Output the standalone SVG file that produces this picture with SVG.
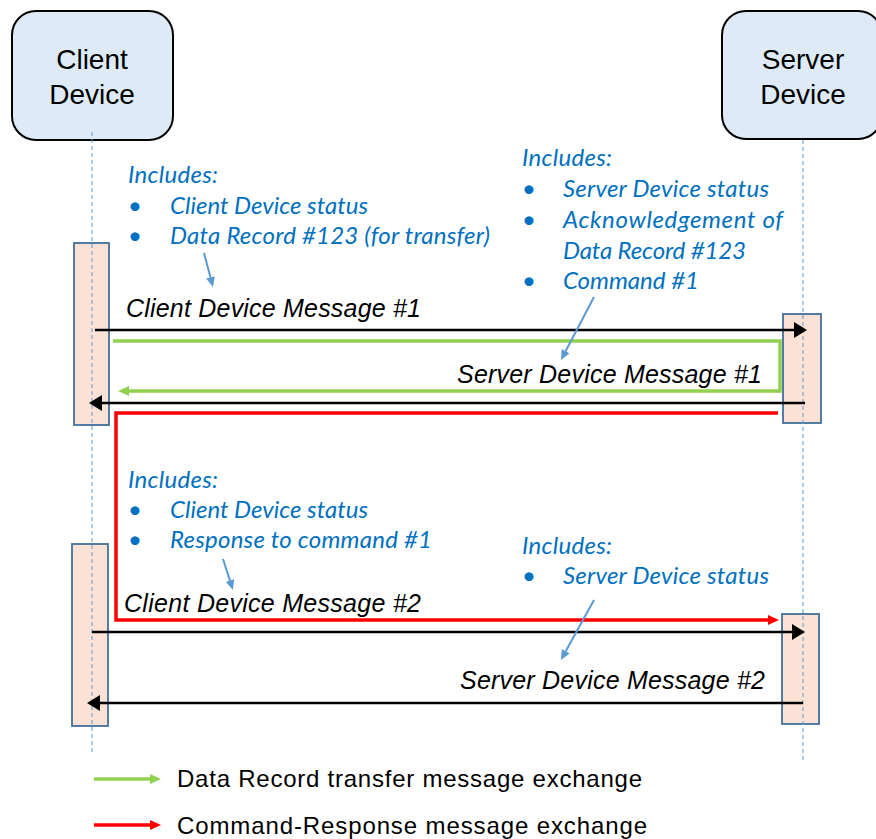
<svg xmlns="http://www.w3.org/2000/svg" width="876" height="839" viewBox="0 0 876 839">
<style>
.title{font-family:"Liberation Sans",Arial,sans-serif;font-size:28px;fill:#000;text-anchor:middle}
.msg{font-family:"Liberation Sans",Arial,sans-serif;font-size:25px;font-style:italic;fill:#000}
.note{font-family:Lato,"Open Sans",sans-serif;font-size:24px;font-style:italic;fill:#0070C0}
.leg{font-family:"Liberation Sans",Arial,sans-serif;font-size:24px;fill:#000}
.head{fill:#DEEBF7;stroke:#000;stroke-width:2}
.act{fill:#FBE2D4;stroke:#41719C;stroke-width:1.8}
.life{stroke:#5B9BD5;stroke-width:1;stroke-dasharray:4 3;fill:none}
.blk{stroke:#000;stroke-width:2.5;fill:none;marker-end:url(#hb)}
.grn{stroke:#92D050;stroke-width:3.5;fill:none;marker-end:url(#hg)}
.red{stroke:#FF0000;stroke-width:3.5;fill:none;marker-end:url(#hr)}
.call{stroke:#5B9BD5;stroke-width:2;fill:none;marker-end:url(#hc)}
</style>
<defs>
<marker id="hb" markerUnits="userSpaceOnUse" markerWidth="14" markerHeight="18" refX="1" refY="8" orient="auto"><path d="M0,0 L13,8 L0,16 z" fill="#000"/></marker>
<marker id="hg" markerUnits="userSpaceOnUse" markerWidth="12" markerHeight="12" refX="1" refY="5" orient="auto"><path d="M0,0 L11,5 L0,10 z" fill="#92D050"/></marker>
<marker id="hr" markerUnits="userSpaceOnUse" markerWidth="12" markerHeight="12" refX="1" refY="5" orient="auto"><path d="M0,0 L11,5 L0,10 z" fill="#FF0000"/></marker>
<marker id="hc" markerUnits="userSpaceOnUse" markerWidth="11" markerHeight="11" refX="1" refY="4.5" orient="auto"><path d="M0,0 L10,4.5 L0,9 z" fill="#5B9BD5"/></marker>
</defs>
<rect width="876" height="839" fill="#fff"/>

<g id="client">
<rect class="head" x="12" y="11" width="161" height="129" rx="24"/>
<text class="title" x="92" y="69">Client</text>
<text class="title" x="92" y="104">Device</text>
</g>
<g id="server">
<rect class="head" x="722" y="11" width="160" height="128" rx="24"/>
<text class="title" x="803" y="69">Server</text>
<text class="title" x="803" y="104">Device</text>
</g>

<g id="activations">
<rect class="act" x="74" y="243" width="35" height="182"/>
<rect class="act" x="783" y="314" width="38" height="109"/>
<rect class="act" x="72" y="544" width="36" height="182"/>
<rect class="act" x="782" y="614" width="37" height="110"/>
</g>
<g id="lifelines">
<line class="life" x1="92" y1="132" x2="92" y2="752"/>
<line class="life" x1="803" y1="140" x2="803" y2="762"/>
</g>

<g id="notes">
<text class="note" x="128" y="183" textLength="90">Includes:</text>
<text class="note" x="128" y="214">•</text><text class="note" x="170" y="214" textLength="198">Client Device status</text>
<text class="note" x="128" y="244">•</text><text class="note" x="170" y="244" textLength="320">Data Record #123 (for transfer)</text>

<text class="note" x="522" y="166" textLength="90">Includes:</text>
<text class="note" x="522" y="197">•</text><text class="note" x="563" y="197" textLength="206">Server Device status</text>
<text class="note" x="522" y="228">•</text><text class="note" x="563" y="228" textLength="220">Acknowledgement of</text>
<text class="note" x="563" y="259" textLength="183">Data Record #123</text>
<text class="note" x="522" y="289">•</text><text class="note" x="563" y="289" textLength="136">Command #1</text>

<text class="note" x="128" y="488" textLength="90">Includes:</text>
<text class="note" x="128" y="518">•</text><text class="note" x="170" y="518" textLength="198">Client Device status</text>
<text class="note" x="128" y="548">•</text><text class="note" x="170" y="548" textLength="262">Response to command #1</text>

<text class="note" x="522" y="554" textLength="90">Includes:</text>
<text class="note" x="522" y="584">•</text><text class="note" x="563" y="584" textLength="206">Server Device status</text>
</g>

<g id="labels">
<text class="msg" x="126" y="317" textLength="295">Client Device Message #1</text>
<text class="msg" x="457" y="383" textLength="305">Server Device Message #1</text>
<text class="msg" x="124" y="612" textLength="297">Client Device Message #2</text>
<text class="msg" x="460" y="689" textLength="305">Server Device Message #2</text>
</g>

<g id="connectors">
<path class="grn" d="M113,341 H780 V391 H128"/>
<path class="red" d="M778,413 H116 V620 H769"/>
<line class="blk" x1="95" y1="330" x2="795" y2="330"/>
<line class="blk" x1="805" y1="403" x2="101" y2="403"/>
<line class="blk" x1="92" y1="632" x2="793" y2="632"/>
<line class="blk" x1="803" y1="703" x2="99" y2="703"/>
<line class="call" x1="204" y1="253" x2="210.7" y2="278.3"/>
<line class="call" x1="594" y1="297" x2="565.2" y2="352"/>
<line class="call" x1="223" y1="559" x2="230.2" y2="581.4"/>
<line class="call" x1="594" y1="600" x2="565.3" y2="652.1"/>
</g>

<g id="legend">
<line class="grn" x1="94" y1="779" x2="151" y2="779"/>
<text class="leg" x="177" y="787" textLength="465">Data Record transfer message exchange</text>
<line class="red" x1="94" y1="825" x2="151" y2="825"/>
<text class="leg" x="177" y="834" textLength="470">Command-Response message exchange</text>
</g>
</svg>
